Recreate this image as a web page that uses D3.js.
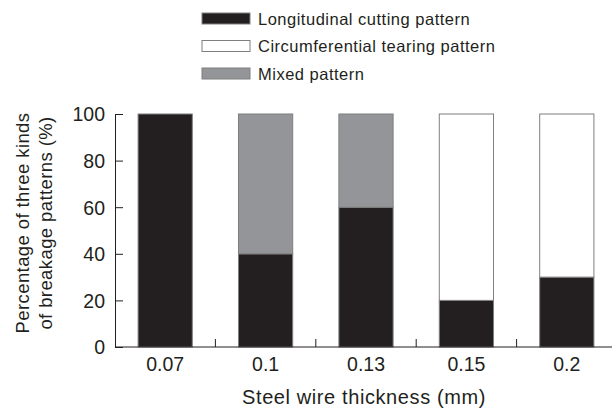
<!DOCTYPE html>
<html><head><meta charset="utf-8">
<script src="https://cdn.jsdelivr.net/npm/d3@7/dist/d3.min.js"></script>
<style>body{margin:0;background:#fff}svg{display:block}text{font-family:"Liberation Sans",Arial,sans-serif;fill:#231f20}</style>
</head><body><svg id="c" width="612" height="416"></svg>
<script>
const categories = ["0.07","0.1","0.13","0.15","0.2"];
const longitudinal = [100,40,60,20,30];
const circumferential = [0,0,0,80,70];
const mixed = [0,60,40,0,0];
const seriesNames = ["Longitudinal cutting pattern","Circumferential tearing pattern","Mixed pattern"];
const yTicks = [0,20,40,60,80,100];

const colors = {"Longitudinal cutting pattern":"#231f20","Circumferential tearing pattern":"#ffffff","Mixed pattern":"#939598"};
const svg = d3.select("#c");
const x = d3.scaleBand().domain(categories).range([115,617]).paddingInner(0.46).paddingOuter(0.23);
const xb = d3.scaleBand().domain(categories).range([115,617]);
const y = d3.scaleLinear().domain([0,100]).range([347,114]);

const rows = categories.map((c,i)=>({cat:c,"Longitudinal cutting pattern":longitudinal[i],"Circumferential tearing pattern":circumferential[i],"Mixed pattern":mixed[i]}));
const stack = d3.stack().keys(seriesNames)(rows);

stack.forEach(layer=>{
  svg.append("g").selectAll("rect").data(layer.filter(d=>d[1]-d[0]>0)).join("rect")
    .attr("x",d=>x(d.data.cat)).attr("width",x.bandwidth())
    .attr("y",d=>y(d[1])).attr("height",d=>y(d[0])-y(d[1]))
    .attr("fill",colors[layer.key]).attr("stroke","#7f7f7f").attr("stroke-width",1);
});

// y axis
const ya = svg.append("g").attr("transform","translate(115,0)")
  .call(d3.axisLeft(y).tickValues(yTicks).tickSizeInner(-8).tickSizeOuter(0).tickPadding(10));
ya.select(".domain").attr("stroke","#231f20");
ya.selectAll(".tick line").attr("stroke","#231f20");
ya.selectAll("text").attr("font-size",19.5).style("font-family","Liberation Sans, Arial, sans-serif").attr("fill","#231f20").attr("dy","0.35em");

// x axis
const xa = svg.append("g").attr("transform","translate(0,347)")
  .call(d3.axisBottom(x).tickSize(0).tickPadding(0));
xa.select(".domain").attr("stroke","#231f20").attr("d","M115,0H612");
xa.selectAll("text").attr("font-size",19.5).style("font-family","Liberation Sans, Arial, sans-serif").attr("fill","#231f20").attr("dy",null).attr("y",24);
// separators between categories
svg.append("g").selectAll("line").data(categories.slice(1)).join("line")
  .attr("x1",d=>xb(d)).attr("x2",d=>xb(d)).attr("y1",347).attr("y2",339)
  .attr("stroke","#231f20");

svg.append("text").attr("x",364).attr("y",404).attr("text-anchor","middle").attr("font-size",20).attr("letter-spacing",0.6).text("Steel wire thickness (mm)");
const yl = svg.append("text").attr("transform","translate(0,223) rotate(-90)").attr("text-anchor","middle").attr("font-size",18.5).attr("letter-spacing",0.4);
yl.append("tspan").attr("x",0).attr("y",29).text("Percentage of three kinds");
yl.append("tspan").attr("x",0).attr("y",52).text("of breakage patterns (%)");

// legend
const lg = svg.append("g").selectAll("g").data(seriesNames).join("g")
  .attr("transform",(d,i)=>`translate(202,${13+i*27.5})`);
lg.append("rect").attr("width",48).attr("height",11).attr("fill",d=>colors[d]).attr("stroke","#7f7f7f");
lg.append("text").attr("x",56).attr("y",11.5).attr("font-size",16.5).attr("letter-spacing",0.5).text(d=>d);
</script></body></html>
